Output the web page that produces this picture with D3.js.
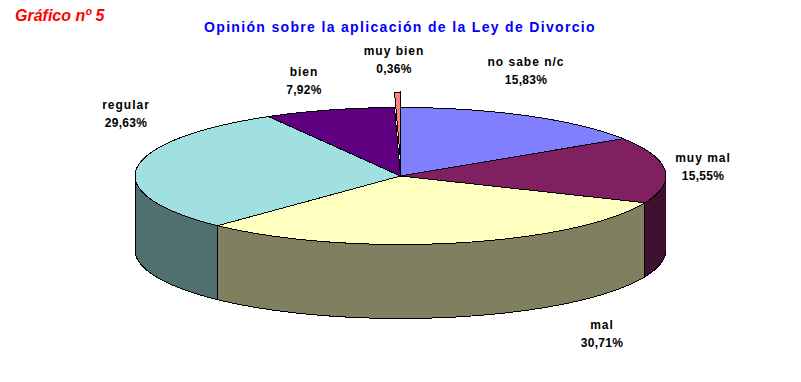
<!DOCTYPE html>
<html>
<head>
<meta charset="utf-8">
<script src="https://cdnjs.cloudflare.com/ajax/libs/d3/7.8.5/d3.min.js"></script>
<style>
html, body { margin: 0; padding: 0; background: #fff; }
svg { display: block; }
text { font-family: "Liberation Sans", Arial, sans-serif; font-weight: bold; }
</style>
</head>
<body>
<div id="chart"></div>
<script>
// values, clockwise from 12 o'clock
var categories = ['no sabe n/c', 'muy mal', 'mal', 'regular', 'bien', 'muy bien']
var values = [15.83, 15.55, 30.71, 29.63, 7.92, 0.36]
var valueLabels = ['15,83%', '15,55%', '30,71%', '29,63%', '7,92%', '0,36%']
var topColours = ['#8080ff', '#802060', '#ffffc0', '#a0e0e0', '#600080', '#ff8080']
var sideColours = ['#404080', '#401030', '#808060', '#507070', '#300040', '#804040']

var title = 'Opinión sobre la aplicación de la Ley de Divorcio'
var tag = 'Gráfico nº 5'

// label centres, same order as categories
var labelX = [526, 703, 602, 126, 304, 394]
var labelY = [62, 158, 325, 105, 72, 51]

var width = 801, height = 382
var pie_config = { 'cx': 400.5, 'cy': 176, 'rx': 265.5, 'ry': 68.5, 'depth': 74, 'explode': 15.5 }

var svg = d3.select('#chart').append('svg')
    .attr('width', width)
    .attr('height', height)

var slices = d3.pie().sort(null).value(d => d)(values)

// tilt: pie angle -> point on the flattened circle
var xScale = d3.scaleLinear().domain([-1, 1]).range([pie_config.cx - pie_config.rx, pie_config.cx + pie_config.rx])
var yScale = d3.scaleLinear().domain([-1, 1]).range([pie_config.cy + pie_config.ry, pie_config.cy - pie_config.ry])

function rim(a, dy) {
    return [xScale(Math.sin(a)), yScale(Math.cos(a)) + dy]
}

function arcAngles(a0, a1) {
    var n = Math.max(2, Math.ceil((a1 - a0) / 0.01))
    return d3.range(n + 1).map(i => a0 + (a1 - a0) * i / n)
}

var line = d3.line()

function topPath(d, dy) {
    var pts = [[xScale(0), yScale(0) + dy]]
    arcAngles(d.startAngle, d.endAngle).forEach(a => pts.push(rim(a, dy)))
    return line(pts) + 'Z'
}

// outer wall, only the front half of the rim shows
function wallPath(d, dy) {
    var a0 = Math.max(d.startAngle, Math.PI / 2)
    var a1 = Math.min(d.endAngle, Math.PI * 1.5)
    if (a1 <= a0) return null
    var angles = arcAngles(a0, a1)
    var pts = angles.map(a => rim(a, dy))
    angles.reverse().forEach(a => pts.push(rim(a, dy + pie_config.depth)))
    return line(pts) + 'Z'
}

var main = slices.slice(0, 5)
var sliver = slices[5]

var data_layer = svg.append('g')
    .attr('stroke', '#000')
    .attr('stroke-width', 1)
    .attr('stroke-linejoin', 'round')
    .attr('shape-rendering', 'crispEdges')

// the exploded slice wall sits behind everything and shows through the gap
data_layer.append('path')
    .attr('d', () => {
        var c = [xScale(0), yScale(0) - pie_config.explode]
        var a = rim(sliver.startAngle, -pie_config.explode)
        var b = rim(sliver.endAngle, -pie_config.explode)
        return line([c, a, b, [b[0], b[1] + pie_config.depth], [a[0], a[1] + pie_config.depth], [c[0], c[1] + pie_config.depth]]) + 'Z'
    })
    .attr('fill', '#000')

data_layer.selectAll('.wall')
    .data(main)
    .enter()
    .append('path')
    .classed('wall', true)
    .attr('d', d => wallPath(d, 0))
    .attr('fill', d => sideColours[d.index])

data_layer.selectAll('.top')
    .data(main)
    .enter()
    .append('path')
    .classed('top', true)
    .attr('d', d => topPath(d, 0))
    .attr('fill', d => topColours[d.index])

data_layer.append('path')
    .attr('d', topPath(sliver, -pie_config.explode))
    .attr('fill', topColours[sliver.index])

// labels
var label_layer = svg.append('g')
    .attr('font-size', 12)
    .attr('text-anchor', 'middle')
    .attr('fill', '#000')

categories.forEach(function(c, i) {
    label_layer.append('text')
        .attr('x', labelX[i])
        .attr('y', labelY[i] + 4)
        .attr('letter-spacing', 1)
        .text(c)
    label_layer.append('text')
        .attr('x', labelX[i])
        .attr('y', labelY[i] + 22)
        .attr('letter-spacing', 0.3)
        .text(valueLabels[i])
})

svg.append('text')
    .attr('x', 400)
    .attr('y', 32)
    .attr('text-anchor', 'middle')
    .attr('font-size', 14)
    .attr('letter-spacing', 1.33)
    .attr('fill', '#0000ff')
    .text(title)

svg.append('text')
    .attr('x', 15)
    .attr('y', 21)
    .attr('font-size', 16)
    .attr('font-style', 'italic')
    .attr('fill', '#ff0000')
    .text(tag)
</script>
</body>
</html>
